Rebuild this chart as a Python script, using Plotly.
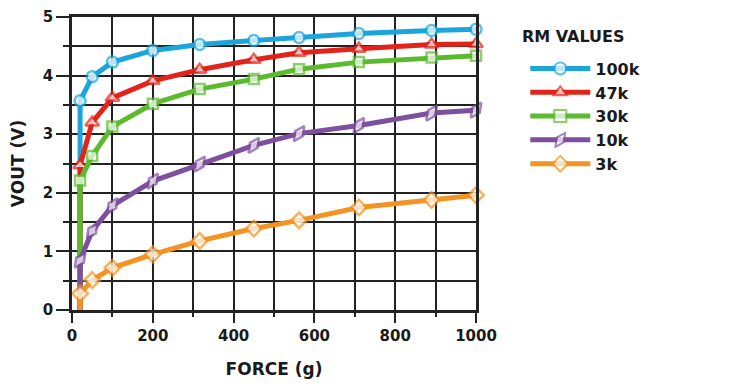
import plotly.graph_objects as go

force_g = [20, 50, 100, 200, 316, 450, 562, 710, 890, 1000]
start_force = 20
start_vout = 0.0

series_names = ["100k", "47k", "30k", "10k", "3k"]
vout_100k = [3.57, 3.98, 4.23, 4.43, 4.53, 4.60, 4.65, 4.72, 4.77, 4.79]
vout_47k = [2.47, 3.20, 3.62, 3.91, 4.10, 4.27, 4.39, 4.46, 4.53, 4.54]
vout_30k = [2.21, 2.63, 3.13, 3.52, 3.77, 3.94, 4.11, 4.23, 4.31, 4.34]
vout_10k = [0.85, 1.35, 1.78, 2.20, 2.49, 2.81, 3.01, 3.15, 3.36, 3.41]
vout_3k = [0.28, 0.51, 0.72, 0.95, 1.18, 1.39, 1.53, 1.75, 1.88, 1.96]

x_tickvals = [0, 200, 400, 600, 800, 1000]
y_tickvals = [0, 1, 2, 3, 4, 5]

colors = ["#1aa5dc", "#e2231a", "#5cba2f", "#7e4f9f", "#f39321"]
symbols = ["circle", "triangle-up", "square", "diamond-tall", "diamond"]
angles = [0, 0, 0, 35, 0]
sizes = [11, 12, 10, 13, 12]
all_vout = [vout_100k, vout_47k, vout_30k, vout_10k, vout_3k]

fig = go.Figure()
for name, vals, c, s, a, sz in zip(series_names, all_vout, colors, symbols, angles, sizes):
    xs = [start_force] + force_g
    ys = [start_vout] + vals
    fig.add_trace(go.Scatter(
        x=xs, y=ys, name=name, mode="lines+markers",
        line=dict(color=c, width=5),
        marker=dict(symbol=s, angle=a, size=[0] + [sz] * len(vals), color="white",
                    line=dict(color=c, width=2.5)),
        cliponaxis=False,
    ))

font_family = "DejaVu Sans, sans-serif"
txt = "#1a1a1a"
fig.update_layout(
    width=740, height=391,
    margin=dict(l=64, r=272, t=9, b=89),
    paper_bgcolor="white", plot_bgcolor="white",
    font=dict(family=font_family, color=txt),
    legend=dict(
        x=1.122, y=0.882, xanchor="left", yanchor="top",
        font=dict(size=16, color=txt, weight="bold"),
        itemsizing="constant", tracegroupgap=0, itemwidth=60,
        bgcolor="rgba(0,0,0,0)",
    ),
    showlegend=True,
    annotations=[dict(
        text="RM VALUES", xref="paper", yref="paper", x=1.109, y=0.935,
        xanchor="left", yanchor="middle", showarrow=False,
        font=dict(size=16, weight="bold", color=txt),
    )],
)
fig.update_xaxes(
    range=[0, 1000], tickvals=x_tickvals, ticktext=[str(v) for v in x_tickvals],
    showgrid=True, gridcolor="#222", gridwidth=1.5,
    minor=dict(dtick=100, showgrid=True, gridcolor="#222", gridwidth=1.5,
               ticks="outside", ticklen=4, tickcolor="#222", tickwidth=1.5),
    ticks="outside", ticklen=10, tickwidth=2, tickcolor="#222",
    showline=True, linecolor="#222", linewidth=2.5, mirror=True,
    tickfont=dict(size=15, weight="bold", color=txt),
    title=dict(text="FORCE (g)", font=dict(size=17, weight="bold", color=txt), standoff=20),
    zeroline=False, automargin=False,
)
fig.update_yaxes(
    range=[0, 5], tickvals=y_tickvals, ticktext=[str(v) for v in y_tickvals],
    showgrid=True, gridcolor="#222", gridwidth=1.5,
    minor=dict(dtick=0.5, showgrid=True, gridcolor="#222", gridwidth=1.5,
               ticks="outside", ticklen=6, tickcolor="#222", tickwidth=1.5),
    ticks="outside", ticklen=13, tickwidth=2, tickcolor="#222",
    showline=True, linecolor="#222", linewidth=2.5, mirror=True,
    tickfont=dict(size=15, weight="bold", color=txt),
    title=dict(text="VOUT (V)", font=dict(size=17, weight="bold", color=txt), standoff=16),
    zeroline=False, automargin=False,
)

fig.write_html("out.html")
